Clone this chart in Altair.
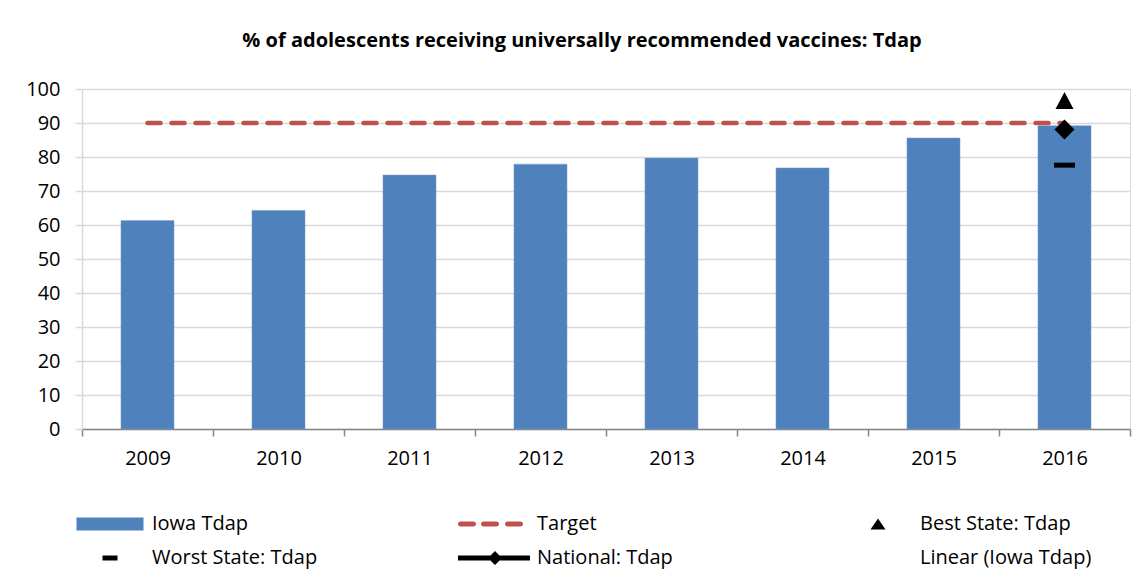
import altair as alt
import pandas as pd

# ---- data ----
years = ["2009", "2010", "2011", "2012", "2013", "2014", "2015", "2016"]
iowa_tdap = [61.3, 64.3, 74.7, 77.9, 79.7, 76.8, 85.6, 89.2]
target = [90, 90, 90, 90, 90, 90, 90, 90]
marker_year = ["2016"]
best_state = [96.6]
worst_state = [77.6]
national = [88.1]
y_ticks = [0, 10, 20, 30, 40, 50, 60, 70, 80, 90, 100]

title_text = "% of adolescents receiving universally recommended vaccines: Tdap"
legend_col1 = ["Iowa Tdap", "Worst State: Tdap"]
legend_col2 = ["Target", "National: Tdap"]
legend_col3 = ["Best State: Tdap", "Linear (Iowa Tdap)"]

FONT = "Open Sans"
BLUE = "#4F81BD"
RED = "#C0504D"
GRID = "#D9D9D9"
AXIS = "#868686"

# symbol paths (unit = sqrt(size)/2)
P_RECT = "M-3.35,-0.65H3.35V0.65H-3.35Z"
P_DASH_SMALL = "M-0.75,-0.25H0.75V0.25H-0.75Z"
def rdash(a, b, h=0.25):
    return (f"M{a+h},{-h}H{b-h}A{h},{h} 0 0 1 {b-h},{h}H{a+h}A{h},{h} 0 0 1 {a+h},{-h}Z")
P_TARGET = " ".join([rdash(-3.3, -1.5), rdash(-1.0, 0.8), rdash(1.4, 3.2)])
P_NATIONAL = "M-3.3,-0.25H3.9V0.25H-3.3Z M-0.3,0L0.4,-0.7L1.1,0L0.4,0.7Z"
P_TRI_LEG = "M0,-0.55L0.75,0.55H-0.75Z"
P_NONE = "M0,0Z"

P_TRI = "M0,-0.85L0.9,0.85H-0.9Z"
P_DIAMOND = "M0,-1L1,0L0,1L-1,0Z"
P_DASH = "M-1.05,-0.25H1.05V0.25H-1.05Z"

bars_df = pd.DataFrame({"year": years, "value": iowa_tdap})
target_df = pd.DataFrame({"year": years, "value": target})
best_df = pd.DataFrame({"year": marker_year, "value": best_state})
worst_df = pd.DataFrame({"year": marker_year, "value": worst_state})
nat_df = pd.DataFrame({"year": marker_year, "value": national})

x_axis = alt.Axis(title=None, labelAngle=0, tickBand="extent",
                  domainColor=AXIS, domainWidth=1.5, tickColor=AXIS,
                  tickWidth=1.5, tickSize=7, labelFont=FONT,
                  labelFontSize=20, labelColor="black",
                  labelPadding=12, grid=False)
y_axis = alt.Axis(title=None, values=y_ticks, labelOverlap=False,
                  domainColor=GRID, domainWidth=1.5, tickColor=GRID,
                  tickWidth=1.5, tickSize=7, gridColor=GRID,
                  gridWidth=1.5, labelFont=FONT, labelFontSize=20,
                  labelColor="black", labelPadding=15)
x_scale = alt.Scale(paddingInner=0, paddingOuter=0)
y_scale = alt.Scale(domain=[0, 100], nice=False)


def X():
    return alt.X("year:N", sort=years, scale=x_scale, axis=x_axis)


def Y():
    return alt.Y("value:Q", scale=y_scale, axis=y_axis)


bars = alt.Chart(bars_df).mark_bar(
    color=BLUE, width=alt.RelativeBandSize(0.405), stroke="#7BA0CD", strokeWidth=0.5
).encode(x=X(), y=Y())

target_line = alt.Chart(target_df).mark_line(
    color=RED, strokeWidth=4.5, strokeDash=[13, 11], strokeCap="round"
).encode(x=X(), y=Y())

best = alt.Chart(best_df).mark_point(
    shape=P_TRI, size=400, filled=True, color="black", opacity=1
).encode(x=X(), y=Y())
worst = alt.Chart(worst_df).mark_point(
    shape=P_DASH, size=400, filled=True, color="black", opacity=1
).encode(x=X(), y=Y())
nat = alt.Chart(nat_df).mark_point(
    shape=P_DIAMOND, size=400, filled=True, color="black", opacity=1
).encode(x=X(), y=Y())


def legend_layer(labels, paths, colors, lx, ly, label_offset):
    leg = alt.Legend(title=None, orient="none", legendX=lx, legendY=ly,
                     direction="vertical", symbolSize=400, symbolStrokeWidth=0,
                     labelFont=FONT, labelFontSize=20, labelColor="black",
                     labelOffset=label_offset, rowPadding=14, padding=0,
                     labelLimit=400)
    df = pd.DataFrame({"entry": labels})
    return alt.Chart(df).mark_point(filled=True, opacity=1).encode(
        shape=alt.Shape("entry:N", scale=alt.Scale(domain=labels, range=paths), legend=leg),
        color=alt.Color("entry:N", scale=alt.Scale(domain=labels, range=colors), legend=leg),
    ).transform_filter("false")


leg1 = legend_layer(legend_col1, [P_RECT, P_DASH_SMALL], [BLUE, "black"], 18, 425, 32)
leg2 = legend_layer(legend_col2, [P_TARGET, P_NATIONAL], [RED, "black"], 399, 425, 36)
leg3 = legend_layer(legend_col3, [P_TRI_LEG, P_NONE], ["black", "rgba(0,0,0,0)"], 786, 425, 32)

chart = alt.layer(bars, target_line, nat, worst, best, leg1, leg2, leg3).resolve_scale(
    shape="independent", color="independent"
).properties(
    width=1048, height=340,
    padding={"left": 74, "top": 81, "right": 9, "bottom": 143},
    autosize=alt.AutoSizeParams(type="none"),
    title=alt.TitleParams(title_text, font=FONT, fontSize=20, fontWeight="bold",
                          color="black", anchor="middle", dx=-24, offset=28),
).configure_view(stroke=GRID, strokeWidth=1.5).configure(background="white")

chart.save("out.html", embed_options={"renderer": "svg", "actions": False})
